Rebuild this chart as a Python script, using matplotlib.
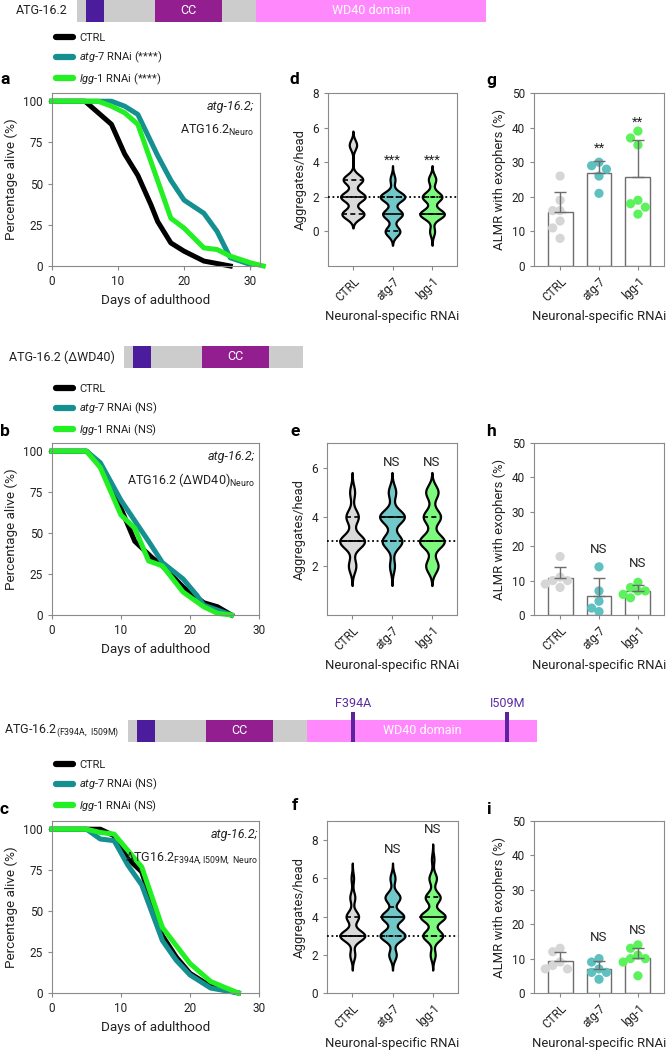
import numpy as np
import matplotlib
matplotlib.use("Agg")
import matplotlib.pyplot as plt
from matplotlib.lines import Line2D

plt.rcParams["font.family"] = ["Roboto", "DejaVu Sans"]
plt.rcParams["mathtext.fontset"] = "custom"
plt.rcParams["mathtext.rm"] = "Roboto"
plt.rcParams["mathtext.it"] = "Roboto:italic"
plt.rcParams["mathtext.bf"] = "Roboto:bold"

W, H = 667, 1050

# ---- domain diagrams (bar length = 100 units)
dom_start = [2.2, 19.1, 43.8]
dom_end = [6.6, 35.5, 100]
dom_text = ["", "CC", "WD40 domain"]
dom_cols = ["#4b1c9b", "#931e8f", "#ff88fd"]
dwd40_end = 43.8
mut_pos = [55.1, 92.7]
mut_names = ["F394A", "I509M"]

# ---- survival curves (day, % alive)
a_ctrl_days = [0, 5, 7, 9, 11, 13, 15, 16, 18, 20, 23, 25, 27]
a_ctrl_pct = [100, 100, 93, 86, 68, 55, 37, 27, 14, 9, 3, 1.5, 0]
a_atg7_days = [0, 9, 11, 13, 16, 18, 20, 23, 25, 27, 30]
a_atg7_pct = [100, 100, 97, 92, 67, 52, 40, 32, 21, 5, 1]
a_lgg1_days = [0, 7, 9, 11, 13, 18, 20, 23, 25, 27, 30, 32]
a_lgg1_pct = [100, 100, 97, 93, 86, 29, 23, 11, 10, 6, 2, 0]

b_ctrl_days = [0, 5, 7, 10, 12, 14.5, 16, 19, 22, 24, 26]
b_ctrl_pct = [100, 100, 92, 65, 45, 35, 30, 17, 7.5, 5, 0]
b_atg7_days = [0, 5, 7, 10, 14, 16, 19, 21, 22, 24, 26]
b_atg7_pct = [100, 100, 93, 70, 45, 32, 22, 12, 6, 3, 0]
b_lgg1_days = [0, 5, 7, 10, 12, 14, 16, 19, 22, 24, 26]
b_lgg1_pct = [100, 100, 90, 61, 53, 33, 30, 14, 5, 1, 0]

c_ctrl_days = [0, 5, 7, 9, 11, 13, 16, 18, 20, 23, 27]
c_ctrl_pct = [100, 100, 100, 96, 82, 74, 35, 22, 12, 4, 0]
c_atg7_days = [0, 5, 7, 9, 11, 13, 16, 18, 20, 23, 27]
c_atg7_pct = [100, 100, 94, 93, 78, 66, 32, 20, 11, 3, 0]
c_lgg1_days = [0, 5, 7, 9, 13, 16, 20, 23, 27]
c_lgg1_pct = [100, 100, 98, 97, 77, 40, 18, 7, 0]

legend_a = ["CTRL", r"$\mathit{atg}$-$\mathit{7}$ RNAi (****)", r"$\mathit{lgg}$-$\mathit{1}$ RNAi (****)"]
legend_ns = ["CTRL", r"$\mathit{atg}$-$\mathit{7}$ RNAi (NS)", r"$\mathit{lgg}$-$\mathit{1}$ RNAi (NS)"]

# ---- aggregates per head: number of animals at each count
groups = ["CTRL", "atg-7", "lgg-1"]
d_levels = [0, 1, 2, 3, 4, 5]
d_ctrl_n = [0, 9, 10, 8, 0, 3]
d_atg7_n = [6, 8, 10, 2, 0, 0]
d_lgg1_n = [2, 10, 8, 3, 0, 0]
d_quart = [(1, 2, 3), (0, 1, 2), (1, 1, 2)]

e_levels = [2, 3, 4, 5]
e_ctrl_n = [3, 10, 5, 2]
e_atg7_n = [2, 8, 10, 3]
e_lgg1_n = [5, 10, 7, 5]
e_quart = [(3, 3, 4), (3, 4, 4), (3, 3, 4)]

f_levels = [2, 3, 4, 5, 6, 7]
f_ctrl_n = [2, 10, 5, 2, 1, 0]
f_atg7_n = [3, 10, 9, 6, 2, 0]
f_lgg1_n = [2, 8, 10, 6, 3, 1]
f_quart = [(3, 3, 4), (3, 4, 4.5), (3, 4, 5)]

d_sig, d_sig_y = ["", "***", "***"], [0, 4.1, 4.1]
e_sig, e_sig_y = ["", "NS", "NS"], [0, 6.2, 6.2]
f_sig, f_sig_y = ["", "NS", "NS"], [0, 7.5, 8.55]

# ---- ALMR with exophers (%)
g_ctrl = [26, 19, 16, 16, 13, 11, 8]
g_atg7 = [30, 29, 28, 26, 21]
g_lgg1 = [39, 37, 35, 19, 18, 17, 15]
h_ctrl = [17, 11, 10, 10, 9, 8]
h_atg7 = [14, 7, 4, 2, 1]
h_lgg1 = [9.5, 8, 7, 7, 6, 5]
i_ctrl = [13, 12, 9, 8, 7, 7]
i_atg7 = [10, 9, 7, 6, 6, 4]
i_lgg1 = [14, 13, 11, 10, 10, 9, 5]

g_sig, g_sig_y = ["", "**", "**"], [0, 34, 41.6]
h_sig, h_sig_y = ["", "NS", "NS"], [0, 19, 15]
i_sig, i_sig_y = ["", "NS", "NS"], [0, 16.2, 18.1]

surv_cols = ["black", "#13908f", "#22f022"]
vio_cols = ["#dadada", "#72c8c8", "#7dfa7d"]
dot_cols = ["#d6d6d6", "#5fc0c0", "#5cf25c"]
SPINE = "#8a8a8a"
TXT = "#222222"
LAB = 9.4
TICK = 8.5

fig = plt.figure(figsize=(W / 100, H / 100), dpi=100)


def px_axes(l, t, r, b):
    return fig.add_axes([l / W, 1 - b / H, (r - l) / W, (b - t) / H])


def style(ax):
    for s in ax.spines.values():
        s.set_color(SPINE)
        s.set_linewidth(0.8)
    ax.tick_params(length=3, width=0.8, color=SPINE, labelsize=TICK, labelcolor=TXT)


def domain_bar(left, top, label, full=True, muts=False):
    ax = px_axes(left, top, left + 409, top + 22)
    ax.set_xlim(0, 100)
    ax.set_ylim(0, 1)
    ax.axis("off")
    end = 100 if full else dwd40_end
    ax.barh(0.5, end, left=0, height=1, color="#cccccc")
    for s, e, t, c in zip(dom_start, dom_end, dom_text, dom_cols):
        e = min(e, end)
        if e <= s:
            continue
        ax.barh(0.5, e - s, left=s, height=1, color=c)
        if t:
            ax.text((s + e) / 2, 0.5, t, color="white", ha="center", va="center", fontsize=9)
    if muts:
        ax.bar(mut_pos, 1.36, width=1.0, bottom=0, color="#5b249f", clip_on=False)
        for p, n in zip(mut_pos, mut_names):
            ax.text(p, 1.75, n, color="#5b2ca0", ha="center", va="center", fontsize=9)
    ax.text(-2.2, 0.5, label, ha="right", va="center", fontsize=9, color=TXT)


def legend(labels, yc):
    hs = [Line2D([], [], color=c, lw=4.5, solid_capstyle="round") for c in surv_cols]
    fig.legend(hs, labels, loc="center left", bbox_to_anchor=(56 / W, 1 - yc / H),
               frameon=False, fontsize=8, handlelength=1.5, handletextpad=0.6,
               labelspacing=0.6, borderpad=0, borderaxespad=0, labelcolor=TXT)


def survival(ax, series, xmax, line1, line2, xr=0.97):
    for (dd, pp), c in zip(series, surv_cols):
        ax.plot(dd, pp, color=c, lw=3.6, clip_on=False)
    ax.set_xlim(0, xmax)
    ax.set_ylim(0, 105)
    ax.set_xticks([0, 10, 20, 30])
    ax.set_yticks([0, 25, 50, 75, 100])
    ax.set_xlabel("Days of adulthood", fontsize=LAB + 0.3, color=TXT)
    ax.set_ylabel("Percentage alive (%)", fontsize=LAB + 0.3, color=TXT)
    ax.text(xr, 0.92, line1, transform=ax.transAxes, ha="right", va="center",
            fontsize=9, style="italic", color=TXT)
    ax.text(xr, 0.785, line2, transform=ax.transAxes, ha="right", va="center",
            fontsize=9, color=TXT)
    style(ax)


def violins(ax, levels, counts, quarts, sig, sig_y, ylim, yticks, ref):
    bw, ext, hw = 0.28, 0.8, 0.31
    for k, (n, q, col) in enumerate(zip(counts, quarts, vio_cols)):
        data = np.repeat(levels, n).astype(float)
        y = np.linspace(data.min() - ext, data.max() + ext, 400)
        dens = np.exp(-0.5 * ((y[:, None] - data[None, :]) / bw) ** 2).sum(1)
        dens = dens / dens.max() * hw
        ax.fill_betweenx(y, k - dens, k + dens, facecolor=col, edgecolor="black", lw=1.6, zorder=2)
        for j, qv in enumerate(q):
            w = np.interp(qv, y, dens)
            ax.plot([k - w, k + w], [qv, qv], color="black", lw=1.2,
                    ls="-" if j == 1 else (0, (3, 2)), zorder=3)
        if sig[k]:
            ax.text(k, sig_y[k], sig[k], ha="center", va="center", fontsize=9.5, color=TXT)
    ax.axhline(ref, color="black", lw=1.3, ls=(0, (1, 1.5)), zorder=4)
    ax.set_xlim(-0.63, 2.63)
    ax.set_ylim(*ylim)
    ax.set_yticks(yticks)
    ax.set_xticks(range(3))
    ax.set_xticklabels(groups, rotation=45, ha="right", rotation_mode="anchor")
    ax.set_ylabel("Aggregates/head", fontsize=LAB, color=TXT)
    ax.set_xlabel("Neuronal-specific RNAi", fontsize=LAB, color=TXT)
    style(ax)


def swarm(vals, ythr, step):
    placed, offs = [], []
    for v in vals:
        for k in [0, -1, 1, -2, 2]:
            x = k * step
            if all(((x - px) / step) ** 2 + ((v - py) / ythr) ** 2 >= 0.9 for px, py in placed):
                break
        placed.append((x, v))
        offs.append(x)
    return np.array(offs)


def bars(ax, sets, sig, sig_y):
    for k, (vals, col) in enumerate(zip(sets, dot_cols)):
        v = np.array(vals, float)
        m, sd = v.mean(), v.std(ddof=1)
        ax.bar(k, m, width=0.64, color="white", edgecolor="#6d6d6d", lw=1, zorder=1)
        ax.scatter(k + swarm(v, 2.4, 0.19), v, s=44, color=col, edgecolors="none", zorder=2)
        ax.errorbar(k, m, yerr=[[0], [sd]], fmt="none", ecolor="#6d6d6d", elinewidth=1,
                    capsize=4.5, capthick=1, zorder=3)
        if sig[k]:
            ax.text(k, sig_y[k], sig[k], ha="center", va="center", fontsize=9.5, color=TXT)
    ax.set_xlim(-0.67, 2.67)
    ax.set_ylim(0, 50)
    ax.set_yticks([0, 10, 20, 30, 40, 50])
    ax.set_xticks(range(3))
    ax.set_xticklabels(groups, rotation=45, ha="right", rotation_mode="anchor")
    ax.set_ylabel("ALMR with exophers (%)", fontsize=LAB, color=TXT)
    ax.set_xlabel("Neuronal-specific RNAi", fontsize=LAB, color=TXT)
    style(ax)


# domain diagrams
domain_bar(77, 0, "ATG-16.2")
domain_bar(124, 346, "ATG-16.2 (ΔWD40)", full=False)
domain_bar(128, 720, r"ATG-16.2$_{\mathregular{(F394A,\ I509M)}}$", muts=True)

legend(legend_a, 60)
legend(legend_ns, 411)
legend(legend_ns, 787)

# row 1
ax = px_axes(52, 93, 260, 266)
survival(ax, [(a_ctrl_days, a_ctrl_pct), (a_atg7_days, a_atg7_pct), (a_lgg1_days, a_lgg1_pct)],
         31.5, "atg-16.2;", r"ATG16.2$_{\mathregular{Neuro}}$")
ax = px_axes(328, 93, 457, 266)
violins(ax, d_levels, [d_ctrl_n, d_atg7_n, d_lgg1_n], d_quart, d_sig, d_sig_y, (-2, 8), [0, 2, 4, 6, 8], 2)
ax = px_axes(534, 93, 664, 266)
bars(ax, [g_ctrl, g_atg7, g_lgg1], g_sig, g_sig_y)

# row 2
ax = px_axes(52, 443, 259, 615)
survival(ax, [(b_ctrl_days, b_ctrl_pct), (b_atg7_days, b_atg7_pct), (b_lgg1_days, b_lgg1_pct)],
         30, "atg-16.2;", r"ATG16.2 (ΔWD40)$_{\mathregular{Neuro}}$", xr=0.98)
ax = px_axes(327, 443, 457, 615)
violins(ax, e_levels, [e_ctrl_n, e_atg7_n, e_lgg1_n], e_quart, e_sig, e_sig_y, (0, 7), [2, 4, 6], 3)
ax = px_axes(534, 443, 664, 615)
bars(ax, [h_ctrl, h_atg7, h_lgg1], h_sig, h_sig_y)

# row 3
ax = px_axes(52, 821, 259, 993)
survival(ax, [(c_ctrl_days, c_ctrl_pct), (c_atg7_days, c_atg7_pct), (c_lgg1_days, c_lgg1_pct)],
         30, "atg-16.2;", r"ATG16.2$_{\mathregular{F394A,I509M,\ Neuro}}$", xr=0.995)
ax = px_axes(327, 821, 458, 993)
violins(ax, f_levels, [f_ctrl_n, f_atg7_n, f_lgg1_n], f_quart, f_sig, f_sig_y, (0, 9), [0, 2, 4, 6, 8], 3)
ax = px_axes(534, 821, 664, 993)
bars(ax, [i_ctrl, i_atg7, i_lgg1], i_sig, i_sig_y)

# panel letters
for lab, x, y in [("a", 0, 80), ("d", 290, 80), ("g", 486, 80),
                  ("b", 0, 432), ("e", 290, 432), ("h", 486, 432),
                  ("c", 0, 810), ("f", 292, 806), ("i", 486, 810)]:
    fig.text(x / W, 1 - y / H, lab, fontsize=12.5, fontweight="bold", ha="left", va="center")

fig.savefig("out.png", dpi=100)
